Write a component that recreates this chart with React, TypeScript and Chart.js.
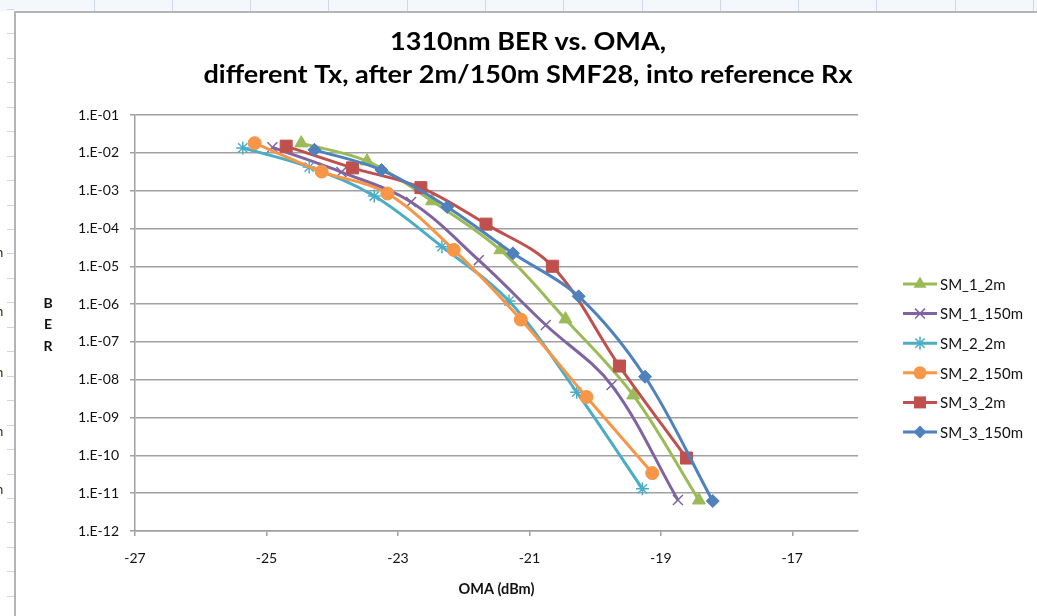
import React, { useEffect, useRef } from 'react';
import { Chart, registerables } from 'chart.js';

Chart.register(...registerables);

// ---------------- data ----------------
const seriesNames = ['SM_1_2m', 'SM_1_150m', 'SM_2_2m', 'SM_2_150m', 'SM_3_2m', 'SM_3_150m'];

const sm1_2m_oma = [-24.47, -23.47, -22.48, -21.44, -20.45, -19.42, -18.42];
const sm1_2m_ber = [1.8e-2, 6.0e-3, 5.3e-4, 2.7e-5, 4.0e-7, 3.9e-9, 6.5e-12];

const sm1_150m_oma = [-24.91, -23.86, -22.8, -21.77, -20.75, -19.75, -18.74];
const sm1_150m_ber = [1.4e-2, 3.1e-3, 5.0e-4, 1.45e-5, 2.8e-7, 7.2e-9, 6.6e-12];

const sm2_2m_oma = [-25.36, -24.35, -23.36, -22.33, -21.31, -20.28, -19.28];
const sm2_2m_ber = [1.35e-2, 4.2e-3, 7.2e-4, 3.3e-5, 1.2e-6, 4.7e-9, 1.3e-11];

const sm2_150m_oma = [-25.18, -24.16, -23.16, -22.15, -21.13, -20.13, -19.13];
const sm2_150m_ber = [1.8e-2, 3.2e-3, 8.4e-4, 2.7e-5, 3.9e-7, 3.5e-9, 3.4e-11];

const sm3_2m_oma = [-24.7, -23.69, -22.65, -21.66, -20.65, -19.63, -18.61];
const sm3_2m_ber = [1.5e-2, 4.0e-3, 1.2e-3, 1.3e-4, 1.0e-5, 2.3e-8, 8.5e-11];

const sm3_150m_oma = [-24.27, -23.25, -22.25, -21.25, -20.25, -19.24, -18.21];
const sm3_150m_ber = [1.2e-2, 3.5e-3, 3.7e-4, 2.2e-5, 1.6e-6, 1.2e-8, 6.2e-12];

const omaSeries = [sm1_2m_oma, sm1_150m_oma, sm2_2m_oma, sm2_150m_oma, sm3_2m_oma, sm3_150m_oma];
const berSeries = [sm1_2m_ber, sm1_150m_ber, sm2_2m_ber, sm2_150m_ber, sm3_2m_ber, sm3_150m_ber];

const omaTicks = [-27, -25, -23, -21, -19, -17];
const berTicks = [1e-1, 1e-2, 1e-3, 1e-4, 1e-5, 1e-6, 1e-7, 1e-8, 1e-9, 1e-10, 1e-11, 1e-12];
const berTickLabels = ['1.E-01', '1.E-02', '1.E-03', '1.E-04', '1.E-05', '1.E-06', '1.E-07', '1.E-08', '1.E-09', '1.E-10', '1.E-11', '1.E-12'];

const titleLines = ['1310nm BER vs. OMA,', 'different Tx, after 2m/150m SMF28, into reference Rx'];
const xTitle = 'OMA (dBm)';
const yTitleLetters = ['B', 'E', 'R'];

// ---------------- styles ----------------
const W = 1037;
const H = 616;
const colors = ['#9BBB59', '#8064A2', '#4BACC6', '#F79646', '#C0504D', '#4F81BD'];
const markers = ['triangle', 'crossRot', 'star', 'circle', 'rect', 'rectRot'];
const markerRadius = [7.5, 7, 6.5, 6.5, 8.5, 6.5];
const gridColor = '#A0A0A0';
const FONT = 'Lato, "Open Sans", "DejaVu Sans", sans-serif';

function drawMarker(ctx: CanvasRenderingContext2D, style: string, x: number, y: number, r: number, color: string) {
  ctx.save();
  ctx.fillStyle = color;
  ctx.strokeStyle = color;
  ctx.beginPath();
  const Q = Math.PI / 4;
  if (style === 'circle') {
    ctx.arc(x, y, r, 0, Math.PI * 2);
    ctx.fill();
  } else if (style === 'triangle') {
    ctx.moveTo(x, y - r);
    ctx.lineTo(x + 0.866 * r, y + 0.5 * r);
    ctx.lineTo(x - 0.866 * r, y + 0.5 * r);
    ctx.closePath();
    ctx.fill();
  } else if (style === 'rect') {
    const s = Math.SQRT1_2 * r;
    ctx.rect(x - s, y - s, 2 * s, 2 * s);
    ctx.fill();
  } else if (style === 'rectRot') {
    ctx.moveTo(x - r, y);
    ctx.lineTo(x, y - r);
    ctx.lineTo(x + r, y);
    ctx.lineTo(x, y + r);
    ctx.closePath();
    ctx.fill();
  } else if (style === 'crossRot' || style === 'star') {
    ctx.lineWidth = 1.5;
    const o = Math.cos(Q) * r;
    ctx.moveTo(x - o, y - o);
    ctx.lineTo(x + o, y + o);
    ctx.moveTo(x - o, y + o);
    ctx.lineTo(x + o, y - o);
    if (style === 'star') {
      ctx.moveTo(x, y - r);
      ctx.lineTo(x, y + r);
      ctx.moveTo(x - r, y);
      ctx.lineTo(x + r, y);
    }
    ctx.stroke();
  }
  ctx.restore();
}

const excelDecor = {
  id: 'excelDecor',
  beforeDraw(chart: any) {
    const ctx: CanvasRenderingContext2D = chart.ctx;
    ctx.save();
    ctx.fillStyle = '#FFFFFF';
    ctx.fillRect(0, 0, W, H);
    // top spreadsheet strip
    ctx.fillStyle = '#F4F7FB';
    ctx.fillRect(0, 0, W, 11);
    ctx.strokeStyle = '#D0D7E5';
    ctx.lineWidth = 1;
    for (let cx = 93.5; cx < W; cx += 78.3) {
      ctx.beginPath();
      ctx.moveTo(Math.round(cx) + 0.5, 0);
      ctx.lineTo(Math.round(cx) + 0.5, 11);
      ctx.stroke();
    }
    // left spreadsheet strip: row marks
    for (let ry = 9; ry < H; ry += 24.45) {
      ctx.beginPath();
      ctx.moveTo(7, Math.round(ry) + 0.5);
      ctx.lineTo(14, Math.round(ry) + 0.5);
      ctx.stroke();
    }
    ctx.fillStyle = '#3A2A10';
    ctx.font = '13px ' + FONT;
    ctx.textBaseline = 'middle';
    for (const ny of [253, 312, 373, 432, 490]) {
      ctx.fillText('n', -4, ny);
    }
    // chart area border
    ctx.strokeStyle = '#B4B4B4';
    ctx.lineWidth = 2;
    ctx.beginPath();
    ctx.moveTo(15, H);
    ctx.lineTo(15, 12);
    ctx.lineTo(W, 12);
    ctx.stroke();
    ctx.restore();
  },
  afterDraw(chart: any) {
    const ctx: CanvasRenderingContext2D = chart.ctx;
    ctx.save();
    // title
    ctx.fillStyle = '#000000';
    ctx.font = 'bold 24px ' + FONT;
    ctx.textBaseline = 'alphabetic';
    ctx.textAlign = 'center';
    const targetW = 649;
    const measured = ctx.measureText(titleLines[1]).width;
    const sx = targetW / measured;
    const cx = 528;
    const baselines = [50, 83];
    titleLines.forEach((line, i) => {
      ctx.save();
      ctx.translate(cx, baselines[i]);
      ctx.scale(sx, 1);
      ctx.fillText(line, 0, 0);
      ctx.restore();
    });
    // vertical y title letters
    ctx.font = 'bold 14px ' + FONT;
    ctx.textBaseline = 'middle';
    ctx.fillStyle = '#111111';
    const ly = [303, 324, 346];
    yTitleLetters.forEach((ch, i) => ctx.fillText(ch, 48, ly[i]));
    // legend
    ctx.textAlign = 'left';
    ctx.font = '15px ' + FONT;
    seriesNames.forEach((name, i) => {
      const y = 284 + i * 29.6;
      ctx.strokeStyle = colors[i];
      ctx.lineWidth = 3;
      ctx.beginPath();
      ctx.moveTo(903, y);
      ctx.lineTo(937, y);
      ctx.stroke();
      drawMarker(ctx, markers[i], 920, y, markerRadius[i], colors[i]);
      ctx.fillStyle = '#111111';
      ctx.fillText(name, 940, y + 1);
    });
    ctx.restore();
  },
};

export default function App() {
  const canvasRef = useRef<HTMLCanvasElement | null>(null);

  useEffect(() => {
    const canvas = canvasRef.current;
    if (!canvas) return;
    const datasets = seriesNames.map((name, i) => ({
      label: name,
      data: omaSeries[i].map((x, k) => ({ x, y: berSeries[i][k] })),
      borderColor: colors[i],
      backgroundColor: colors[i],
      borderWidth: 3,
      tension: 0.35,
      fill: false,
      showLine: true,
      pointStyle: markers[i] as any,
      pointRadius: markerRadius[i],
      pointBackgroundColor: colors[i],
      pointBorderColor: colors[i],
      pointBorderWidth: markers[i] === 'crossRot' || markers[i] === 'star' ? 1.5 : 1,
      order: seriesNames.length - 1 - i,
    }));

    const chart = new Chart(canvas, {
      type: 'line',
      data: { datasets },
      plugins: [excelDecor],
      options: {
        responsive: false,
        animation: false,
        devicePixelRatio: 1,
        layout: { padding: { left: 20, right: W - 858, top: 115, bottom: 0 } },
        plugins: {
          legend: { display: false },
          title: { display: false },
          tooltip: { enabled: false },
        },
        scales: {
          x: {
            type: 'linear',
            min: -27,
            max: -16,
            afterBuildTicks: (s: any) => {
              s.ticks = omaTicks.map((v) => ({ value: v }));
            },
            afterFit: (s: any) => {
              s.height = H - 531;
            },
            grid: { drawOnChartArea: false, drawTicks: true, tickLength: 5, color: gridColor, lineWidth: 1.5 },
            border: { color: gridColor, width: 1.5 },
            ticks: {
              padding: 14,
              color: '#111111',
              font: { family: FONT, size: 14 },
              maxRotation: 0,
              autoSkip: false,
              callback: (v: any) => String(v),
            },
            title: {
              display: true,
              text: xTitle,
              color: '#111111',
              font: { family: FONT, size: 14.5, weight: 'bold' },
              padding: { top: 0, bottom: 18 },
            },
          },
          y: {
            type: 'logarithmic',
            min: 1e-12,
            max: 1e-1,
            afterBuildTicks: (s: any) => {
              s.ticks = berTicks.map((v) => ({ value: v, major: false }));
            },
            afterFit: (s: any) => {
              s.width = 115;
            },
            grid: { drawTicks: true, tickLength: 5, color: gridColor, lineWidth: 1.5 },
            border: { color: gridColor, width: 1.5 },
            ticks: {
              padding: 11,
              color: '#111111',
              font: { family: FONT, size: 14 },
              autoSkip: false,
              callback: (v: any) => {
                const k = berTicks.findIndex((t) => Math.abs(Math.log10(t) - Math.log10(Number(v))) < 1e-6);
                return k >= 0 ? berTickLabels[k] : '';
              },
            },
          },
        },
      } as any,
    });
    return () => chart.destroy();
  }, []);

  return (
    <div style={{ position: 'absolute', left: 0, top: 0, width: W, height: H, background: '#fff' }}>
      <canvas ref={canvasRef} width={W} height={H} style={{ display: 'block', width: W, height: H }} />
    </div>
  );
}
